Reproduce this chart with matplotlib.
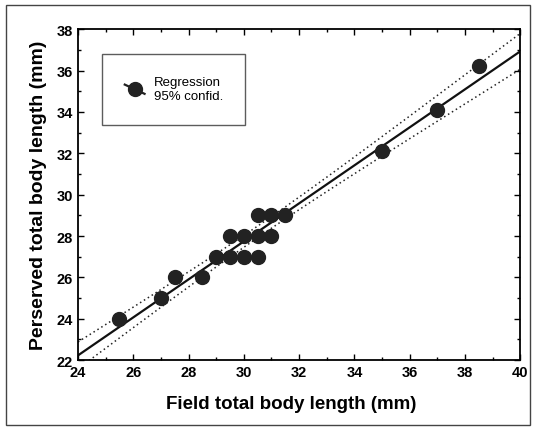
import numpy as np
import matplotlib.pyplot as plt
from matplotlib.patches import Rectangle
from matplotlib.ticker import MultipleLocator
from matplotlib.legend_handler import HandlerLine2D

plt.rcParams['font.family'] = ['Liberation Sans', 'DejaVu Sans']

# field vs preserved total body length (mm)
field = [25.5, 27, 27.5, 28.5, 29, 29.5, 29.5, 30, 30, 30.5, 30.5, 30.5,
         31, 31, 31.5, 35, 37, 38.5]
preserved = [24, 25, 26, 26, 27, 27, 28, 27, 28, 27, 28, 29,
             28, 29, 29, 32.1, 34.1, 36.2]

x = np.array(field)
y = np.array(preserved)
n = len(x)
slope, icpt = np.polyfit(x, y, 1)
resid = y - (slope * x + icpt)
s = np.sqrt(np.sum(resid**2) / (n - 2))
t975 = 2.12  # df = 16

xx = np.linspace(24, 40, 200)
yy = slope * xx + icpt
se = s * np.sqrt(1.0 / n + (xx - x.mean())**2 / np.sum((x - x.mean())**2))


class SlantHandler(HandlerLine2D):
    # legend key with the line running down through the marker
    def create_artists(self, legend, orig_handle, xdescent, ydescent,
                       width, height, fontsize, trans):
        arts = super().create_artists(legend, orig_handle, xdescent, ydescent,
                                      width, height, fontsize, trans)
        for a in arts:
            yd = np.asarray(a.get_ydata(), dtype=float)
            if len(yd) >= 2:
                c = yd.mean()
                a.set_ydata(np.linspace(c + height * 0.5, c - height * 0.5, len(yd)))
        return arts


fig = plt.figure(figsize=(5.38, 4.31), dpi=100)
fig.patches.append(Rectangle((0.012, 0.012), 0.973, 0.975, transform=fig.transFigure,
                             fill=False, edgecolor='#444444', lw=1.0))
ax = fig.add_axes([0.145, 0.162, 0.822, 0.768])

ax.plot(xx, yy, color='#111111', lw=1.6, zorder=2)
ax.plot(xx, yy + t975 * se, color='#222222', lw=1.1, ls=(0, (1, 2)), zorder=2)
ax.plot(xx, yy - t975 * se, color='#222222', lw=1.1, ls=(0, (1, 2)), zorder=2)
ax.plot(x, y, 'o', color='#222222', ms=10, zorder=3)

# legend proxy
proxy, = ax.plot([], [], '-o', color='#222222', ms=10, lw=1.6,
                 label='Regression\n95% confid.')
leg = ax.legend(handler_map={proxy: SlantHandler(numpoints=1)},
                loc='upper left', bbox_to_anchor=(0.055, 0.925), frameon=True,
                fancybox=False, edgecolor='#333333', fontsize=9.5,
                borderpad=1.7, handlelength=1.5, handletextpad=0.7,
                borderaxespad=0)
leg.get_frame().set_linewidth(1.0)

ax.set_xlim(24, 40)
ax.set_ylim(22, 38)
ax.xaxis.set_major_locator(MultipleLocator(2))
ax.xaxis.set_minor_locator(MultipleLocator(1))
ax.yaxis.set_major_locator(MultipleLocator(2))
ax.yaxis.set_minor_locator(MultipleLocator(1))
ax.tick_params(which='both', direction='in', top=True, right=True, width=1.0)
ax.tick_params(which='major', length=4)
ax.tick_params(which='minor', length=2.5)
for lab in ax.get_xticklabels() + ax.get_yticklabels():
    lab.set_fontweight('bold')
    lab.set_fontsize(10.5)
for sp in ax.spines.values():
    sp.set_linewidth(1.3)

ax.set_xlabel('Field total body length (mm)', fontsize=13.5, fontweight='bold')
ax.set_ylabel('Perserved total body length (mm)', fontsize=14, fontweight='bold', labelpad=7)
ax.xaxis.set_label_coords(0.482, -0.105, transform=ax.transAxes)
ax.xaxis.label.set_va('top')

fig.savefig('out.png', dpi=100)
